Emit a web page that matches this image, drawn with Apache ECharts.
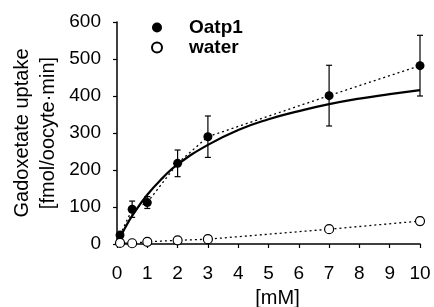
<!DOCTYPE html>
<html>
<head>
<meta charset="utf-8">
<script src="https://cdn.jsdelivr.net/npm/echarts@6/dist/echarts.min.js"></script>
<style>
  html, body { margin: 0; padding: 0; background: #fff; }
  #chart { width: 434px; height: 307px; }
</style>
</head>
<body>
<div id="chart"></div>
<script>
// concentrations [mM]
const conc = [0.1, 0.5, 1, 2, 3, 7, 10]
// uptake, fmol/oocyte.min
const oatp1 = [24, 94, 112, 218, 290, 401, 482]
const oatp1Err = [0, 22, 16, 36, 56, 82, 82]
const water = [3, 2, 6, 10, 13, 40, 62]
const waterErr = [0, 0, 0, 0, 0, 0, 10]
// fitted curve
const fitX = [0, 0.25, 0.5, 1, 1.5, 2, 3, 4, 5, 6, 7, 8, 9, 10]
const fitY = [0, 41, 76, 133, 178, 215, 268, 308, 337, 359, 378, 393, 405, 416]

const FONT = 'Liberation Sans'

const chart = echarts.init(document.getElementById('chart'), null, { renderer: 'canvas' })

function pairs(xs, ys) {
  return xs.map((x, i) => [x, ys[i]])
}

function errData(ys, errs) {
  return conc.map((x, i) => [x, ys[i] - errs[i], ys[i] + errs[i]])
}

function renderErr(params, api) {
  const lo = api.coord([api.value(0), api.value(1)])
  const hi = api.coord([api.value(0), api.value(2)])
  if (Math.abs(hi[1] - lo[1]) < 1) return
  const w = 3
  const style = { stroke: '#000', lineWidth: 1.2 }
  return {
    type: 'group',
    children: [
      { type: 'line', shape: { x1: lo[0], y1: lo[1], x2: hi[0], y2: hi[1] }, style: style },
      { type: 'line', shape: { x1: lo[0] - w, y1: lo[1], x2: lo[0] + w, y2: lo[1] }, style: style },
      { type: 'line', shape: { x1: hi[0] - w, y1: hi[1], x2: hi[0] + w, y2: hi[1] }, style: style }
    ]
  }
}

const option = {
  animation: false,
  grid: { left: 117, right: 14, top: 22, bottom: 63, outerBoundsMode: 'none', containLabel: false },
  legend: {
    orient: 'vertical',
    left: 146,
    top: 13,
    itemGap: 1,
    itemWidth: 10,
    itemHeight: 10,
    data: [
      { name: 'Oatp1', icon: 'circle' },
      { name: 'water', icon: 'circle' }
    ],
    textStyle: { fontFamily: FONT, fontSize: 19, fontWeight: 'bold', color: '#000', padding: [0, 0, 0, 22] }
  },
  xAxis: {
    type: 'value',
    min: 0,
    max: 10,
    interval: 1,
    name: '[mM]',
    nameLocation: 'middle',
    nameGap: 44,
    nameMoveOverlap: false,
    nameTextStyle: { fontFamily: FONT, fontSize: 20, color: '#000', padding: [0, 0, 0, 18] },
    axisLine: { onZero: false, lineStyle: { color: '#000', width: 1.5 } },
    axisTick: { show: true, length: 4, lineStyle: { color: '#000', width: 1.2 } },
    axisLabel: { margin: 20, fontFamily: FONT, fontSize: 19, color: '#000' },
    splitLine: { show: false }
  },
  yAxis: {
    type: 'value',
    min: 0,
    max: 600,
    interval: 100,
    name: 'Gadoxetate uptake\n[fmol/oocyte·min]',
    nameLocation: 'middle',
    nameRotate: 90,
    nameGap: 56,
    nameMoveOverlap: false,
    nameTextStyle: { fontFamily: FONT, fontSize: 20, color: '#000', lineHeight: 26 },
    axisLine: { show: true, lineStyle: { color: '#000', width: 1.5 } },
    axisTick: { show: true, length: 4, lineStyle: { color: '#000', width: 1.2 } },
    axisLabel: { margin: 16, fontFamily: FONT, fontSize: 19, color: '#000' },
    splitLine: { show: false }
  },
  series: [
    {
      name: 'fit',
      type: 'line',
      smooth: true,
      showSymbol: false,
      data: pairs(fitX, fitY),
      lineStyle: { color: '#000', width: 2.2 },
      z: 2
    },
    {
      name: 'Oatp1 line',
      type: 'line',
      showSymbol: false,
      data: pairs(conc, oatp1),
      lineStyle: { color: '#000', width: 1.3, type: [2, 3] },
      z: 2
    },
    {
      name: 'water line',
      type: 'line',
      showSymbol: false,
      data: pairs(conc, water),
      lineStyle: { color: '#000', width: 1.3, type: [2, 3] },
      z: 2
    },
    {
      name: 'Oatp1 err',
      type: 'custom',
      renderItem: renderErr,
      data: errData(oatp1, oatp1Err),
      encode: { x: 0, y: [1, 2] },
      z: 3
    },
    {
      name: 'water err',
      type: 'custom',
      renderItem: renderErr,
      data: errData(water, waterErr),
      encode: { x: 0, y: [1, 2] },
      z: 3
    },
    {
      name: 'Oatp1',
      type: 'scatter',
      symbol: 'circle',
      symbolSize: 9,
      data: pairs(conc, oatp1),
      itemStyle: { color: '#000', opacity: 1 },
      z: 5
    },
    {
      name: 'water',
      type: 'scatter',
      symbol: 'circle',
      symbolSize: 9,
      data: pairs(conc, water),
      itemStyle: { color: '#fff', borderColor: '#000', borderWidth: 1.2, opacity: 1 },
      z: 5
    }
  ]
}

chart.setOption(option)
</script>
</body>
</html>
